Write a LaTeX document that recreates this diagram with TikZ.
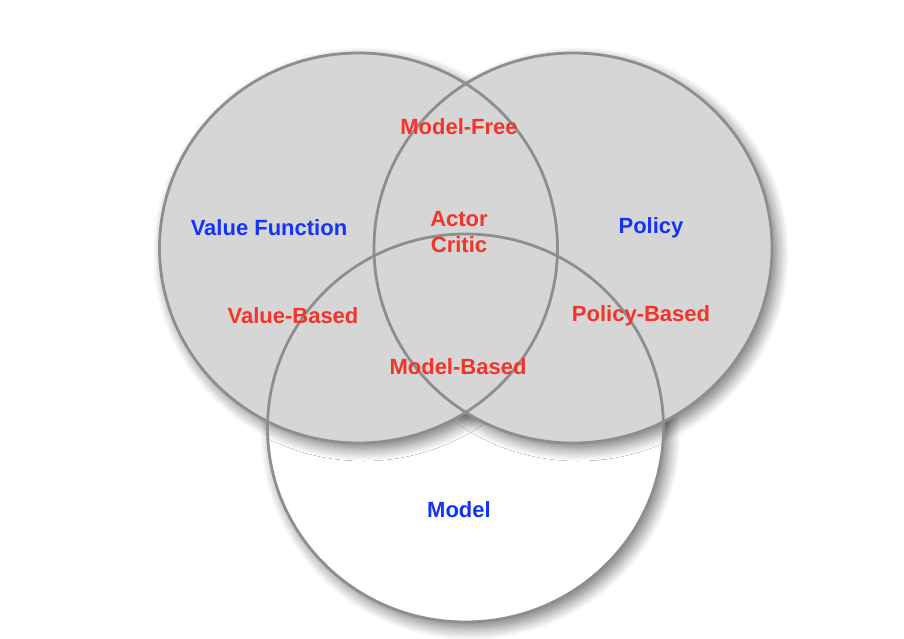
\documentclass[tikz,border=0pt]{standalone}
\usepackage{fontspec}
\setmainfont{Liberation Sans}
\usetikzlibrary{shadows.blur}
\definecolor{fillgray}{HTML}{D6D6D6}
\definecolor{edgegray}{HTML}{8E8E8E}
\definecolor{lblred}{HTML}{F2342A}
\definecolor{lblblue}{HTML}{1433FA}
\tikzset{
  myshadow/.style={blur shadow={shadow xshift=5pt, shadow yshift=-6pt, shadow blur radius=12pt, shadow blur steps=12, shadow opacity=55}},
  ring/.style={draw=edgegray, line width=2.8pt},
  redlbl/.style={text=lblred, font=\bfseries\fontsize{22}{26}\selectfont, align=center, inner sep=0pt},
  bluelbl/.style={text=lblblue, font=\bfseries\fontsize{22}{26}\selectfont, align=center, inner sep=0pt},
}
\begin{document}
\begin{tikzpicture}[x=1pt, y=-1pt]
\useasboundingbox (0,0) rectangle (904,638);
\coordinate (cL) at (358.5,248);
\coordinate (cR) at (573,248);
\coordinate (cB) at (465.5,428);
% bottom circle
\path[myshadow, fill=white] (cB) ellipse [x radius=198, y radius=194];
% shadows of top circles
\path[myshadow] (cL) ellipse [x radius=199, y radius=195];
\path[myshadow] (cR) ellipse [x radius=199, y radius=195];
% fills
\fill[fillgray] (cL) ellipse [x radius=199, y radius=195];
\fill[fillgray] (cR) ellipse [x radius=199, y radius=195];
% outlines
\draw[ring] (cB) ellipse [x radius=198, y radius=194];
\draw[ring] (cL) ellipse [x radius=199, y radius=195];
\draw[ring] (cR) ellipse [x radius=199, y radius=195];
% labels
\node[redlbl] (mfree) at (459,127) {Model-Free};
\node[bluelbl] (vfun) at (269,228) {Value Function};
\node[redlbl] (ac) at (459,232) {Actor\\Critic};
\node[bluelbl] (pol) at (651,228) {Policy};
\node[redlbl] (vbased) at (293,316) {Value-Based};
\node[redlbl] (pbased) at (641,316) {Policy-Based};
\node[redlbl] (mbased) at (458,367) {Model-Based};
\node[bluelbl] (model) at (459,510) {Model};
\end{tikzpicture}
\end{document}
